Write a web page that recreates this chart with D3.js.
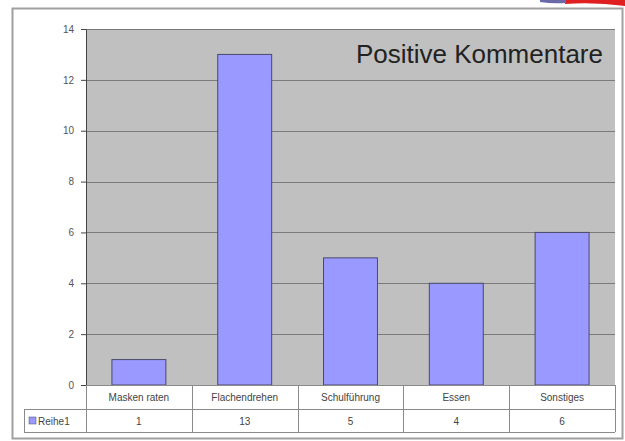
<!DOCTYPE html>
<html>
<head>
<meta charset="utf-8">
<script src="https://cdn.jsdelivr.net/npm/d3@7"></script>
<style>
  body { margin: 0; background: #fff; }
  svg { display: block; font-family: Arial, "Liberation Sans", sans-serif; }
</style>
</head>
<body>
<div id="chart"></div>
<script>
// chart data
const categories = ["Masken raten", "Flachendrehen", "Schulführung", "Essen", "Sonstiges"];
const seriesName = "Reihe1";
const values = [1, 13, 5, 4, 6];
const yTicks = [0, 2, 4, 6, 8, 10, 12, 14];
const title = "Positive Kommentare";

const W = 625, H = 441;
const plot = { left: 86, right: 615, top: 29, bottom: 385 };

const svg = d3.select("#chart").append("svg")
    .attr("width", W)
    .attr("height", H);

// little clipped decoration top right
svg.append("path")
    .attr("d", "M565,0 L625,0 L625,6 Q595,2 565,4 Z")
    .attr("fill", "#e02020");
svg.append("path")
    .attr("d", "M540,0 L566,0 L566,3 Q552,4 540,2 Z")
    .attr("fill", "#6a6aa8");

// outer frame
svg.append("rect")
    .attr("x", 12.5).attr("y", 8.5)
    .attr("width", 610).attr("height", 430)
    .attr("fill", "#fff")
    .attr("stroke", "#a0a0a0")
    .attr("stroke-width", 2);

const x = d3.scaleBand()
    .domain(categories)
    .range([plot.left, plot.right])
    .paddingInner(0.49)
    .paddingOuter(0.245);

const bandX = d3.scaleBand()
    .domain(categories)
    .range([plot.left, plot.right]);

const y = d3.scaleLinear()
    .domain([0, 14])
    .range([plot.bottom, plot.top]);

// plot background
svg.append("rect")
    .attr("x", plot.left).attr("y", plot.top)
    .attr("width", plot.right - plot.left)
    .attr("height", plot.bottom - plot.top)
    .attr("fill", "#c0c0c0");

// gridlines
svg.append("g")
    .selectAll("line")
    .data(yTicks.filter(d => d > 0))
    .enter().append("line")
    .attr("x1", plot.left).attr("x2", plot.right)
    .attr("y1", d => Math.round(y(d)) + 0.5)
    .attr("y2", d => Math.round(y(d)) + 0.5)
    .attr("stroke", "#7a7a7a")
    .attr("stroke-width", 1);

// title
svg.append("text")
    .attr("x", 603).attr("y", 63)
    .attr("text-anchor", "end")
    .attr("font-size", 26)
    .attr("fill", "#222")
    .text(title);

// bars
svg.append("g")
    .selectAll("rect")
    .data(values)
    .enter().append("rect")
    .attr("x", (d, i) => x(categories[i]))
    .attr("y", d => y(d))
    .attr("width", x.bandwidth())
    .attr("height", d => y(0) - y(d))
    .attr("fill", "#9999ff")
    .attr("stroke", "#4a4a6a")
    .attr("stroke-width", 1);

// y axis
const yAxis = svg.append("g")
    .attr("transform", `translate(${plot.left},0)`)
    .call(d3.axisLeft(y).tickValues(yTicks).tickSize(5).tickPadding(7));
yAxis.select(".domain").attr("stroke", "#444");
yAxis.selectAll(".tick line").attr("stroke", "#444");
yAxis.selectAll("text").attr("font-size", 10).attr("fill", "#555");

// data table
const rowTop = plot.bottom, rowMid = 409, rowBot = 432, legLeft = 24;
const table = svg.append("g").attr("stroke", "#8a8a8a").attr("fill", "none");
table.append("line").attr("x1", plot.left).attr("x2", plot.right).attr("y1", rowTop + 0.5).attr("y2", rowTop + 0.5);
table.append("line").attr("x1", legLeft).attr("x2", plot.right).attr("y1", rowMid + 0.5).attr("y2", rowMid + 0.5);
table.append("line").attr("x1", legLeft).attr("x2", plot.right).attr("y1", rowBot + 0.5).attr("y2", rowBot + 0.5);
table.append("line").attr("x1", legLeft + 0.5).attr("x2", legLeft + 0.5).attr("y1", rowMid).attr("y2", rowBot);
table.selectAll("line.col")
    .data(categories)
    .enter().append("line")
    .attr("class", "col")
    .attr("x1", d => Math.round(bandX(d)) + 0.5)
    .attr("x2", d => Math.round(bandX(d)) + 0.5)
    .attr("y1", rowTop).attr("y2", rowBot);
table.append("line")
    .attr("x1", plot.right + 0.5).attr("x2", plot.right + 0.5)
    .attr("y1", rowTop).attr("y2", rowBot);

svg.append("g")
    .selectAll("text")
    .data(categories)
    .enter().append("text")
    .attr("x", d => bandX(d) + bandX.bandwidth() / 2)
    .attr("y", rowTop + 16)
    .attr("text-anchor", "middle")
    .attr("font-size", 10)
    .attr("fill", "#444")
    .text(d => d);

svg.append("g")
    .selectAll("text")
    .data(values)
    .enter().append("text")
    .attr("x", (d, i) => bandX(categories[i]) + bandX.bandwidth() / 2)
    .attr("y", rowMid + 16)
    .attr("text-anchor", "middle")
    .attr("font-size", 10)
    .attr("fill", "#444")
    .text(d => d);

// legend key
svg.append("rect")
    .attr("x", 29).attr("y", 417)
    .attr("width", 7).attr("height", 7)
    .attr("fill", "#9999ff")
    .attr("stroke", "#4a4a6a")
    .attr("stroke-width", 0.5);
svg.append("text")
    .attr("x", 38).attr("y", 424.5)
    .attr("font-size", 10)
    .attr("fill", "#444")
    .text(seriesName);
</script>
</body>
</html>
